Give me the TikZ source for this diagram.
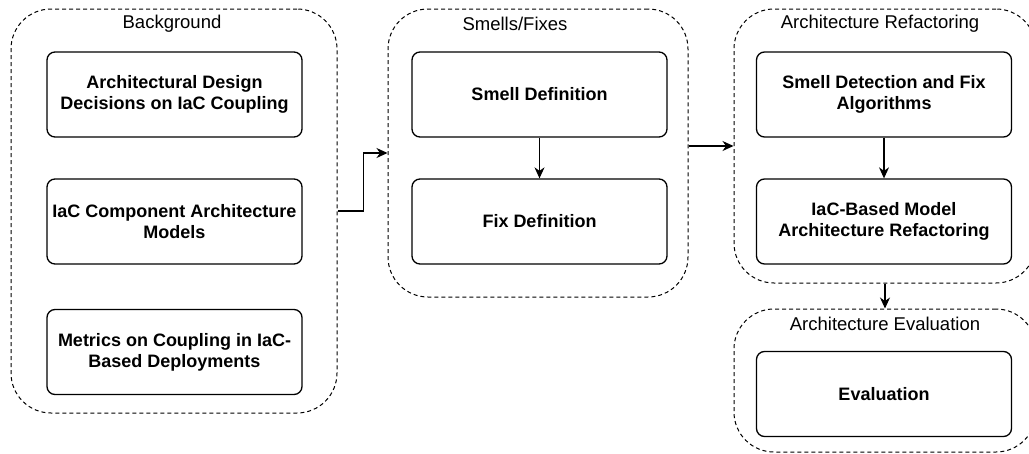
\documentclass[tikz,border=0pt]{standalone}
\usepackage{fontspec}
\setmainfont{Liberation Sans}
\usetikzlibrary{arrows.meta}
\begin{document}
\begin{tikzpicture}[x=1pt,y=-1pt,
  container/.style={draw, dash pattern=on 4pt off 3pt, rounded corners=40pt, line width=1pt, inner sep=0pt},
  boxnode/.style={draw, rounded corners=8pt, line width=1.3pt, minimum width=255pt, minimum height=85pt, inner sep=0pt, align=center, font=\bfseries\fontsize{18}{21}\selectfont},
  titletext/.style={inner sep=0pt, font=\fontsize{18.5}{21}\selectfont},
  arr/.style={-{Stealth[length=11pt,width=10pt,inset=3.5pt]}, line width=1.2pt}]
\useasboundingbox (0,0) rectangle (1029,453);
\fill[white] (0,0) rectangle (1029,453);
\clip (0,0) rectangle (1029,453);
% containers
\node[container, minimum width=326pt, minimum height=404pt] (bg) at (174,211) {};
\node[container, minimum width=300pt, minimum height=288pt] (sf) at (538,153) {};
\node[container, minimum width=302pt, minimum height=274pt] (ar) at (885,146) {};
\node[container, minimum width=302pt, minimum height=143pt] (ev) at (885,380.5) {};
% titles
\node[titletext] (t1) at (172,24) {Background};
\node[titletext] (t2) at (515,24) {Smells/Fixes};
\node[titletext] (t3) at (880,24) {Architecture Refactoring};
\node[titletext] (t4) at (885,324) {Architecture Evaluation};
% boxes
\node[boxnode] (b1) at (174.5,94.5) {Architectural Design\\Decisions on IaC Coupling};
\node[boxnode] (b2) at (174.5,221.5) {IaC Component Architecture\\Models};
\node[boxnode] (b3) at (174.5,352) {Metrics on Coupling in IaC-\\Based Deployments};
\node[boxnode] (s1) at (539.5,94.5) {Smell Definition};
\node[boxnode] (s2) at (539.5,221.5) {Fix Definition};
\node[boxnode] (a1) at (884,94.5) {Smell Detection and Fix\\Algorithms};
\node[boxnode] (a2) at (884,221.5) {IaC-Based Model\\Architecture Refactoring};
\node[boxnode] (e1) at (884,394) {Evaluation};
% connectors
\draw[arr] (bg.east) -- ++(26,0) |- (sf.west);
\draw[arr] (s1.south) -- (s2.north);
\draw[arr] (sf.east |- ar.west) -- (ar.west);
\draw[arr] (a1.south) -- (a2.north);
\draw[arr] (ar.south) -- (ev.north);
\end{tikzpicture}
\end{document}
